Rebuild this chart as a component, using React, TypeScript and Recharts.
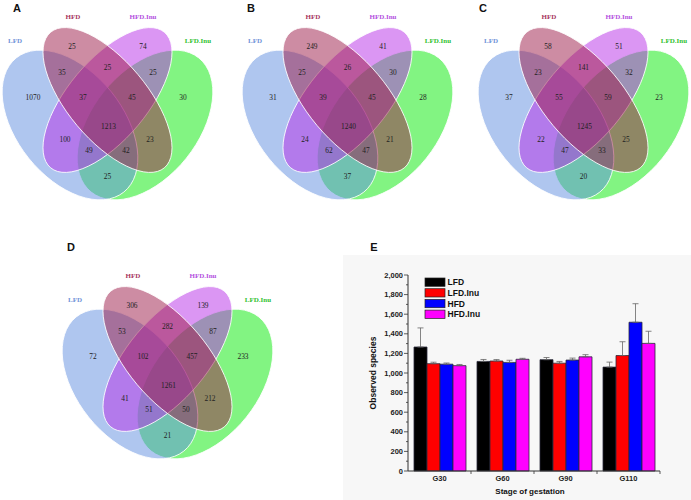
import React from 'react';
import { ScatterChart, Scatter, XAxis, YAxis, BarChart, Bar, ErrorBar } from 'recharts';

// Venn sets, in the order the labels run left to right
const GROUPS = ['LFD', 'HFD', 'HFD.Inu', 'LFD.Inu'];

// region order: LFD, HFD, HFD.Inu, LFD.Inu, LFD&HFD, HFD&HFD.Inu, HFD.Inu&LFD.Inu,
// LFD&HFD&HFD.Inu, HFD&HFD.Inu&LFD.Inu, all four, LFD&HFD.Inu, HFD&LFD.Inu,
// LFD&HFD.Inu&LFD.Inu, LFD&HFD&LFD.Inu, LFD&LFD.Inu
const VENN_A = [1070, 25, 74, 30, 35, 25, 25, 37, 45, 1213, 100, 23, 49, 42, 25];
const VENN_B = [31, 249, 41, 28, 25, 26, 30, 39, 45, 1240, 24, 21, 62, 47, 37];
const VENN_C = [37, 58, 51, 23, 23, 141, 32, 55, 59, 1245, 22, 25, 47, 33, 20];
const VENN_D = [72, 306, 139, 233, 53, 282, 87, 102, 457, 1261, 41, 212, 51, 50, 21];

// bar chart
const STAGES = ['G30', 'G60', 'G90', 'G110'];
const LFD_VALUES = [1265, 1118, 1136, 1060];
const LFD_ERR = [195, 20, 22, 51];
const LFD_INU_VALUES = [1095, 1122, 1100, 1178];
const LFD_INU_ERR = [15, 15, 18, 141];
const HFD_VALUES = [1090, 1108, 1132, 1518];
const HFD_ERR = [12, 22, 20, 189];
const HFD_INU_VALUES = [1075, 1140, 1165, 1302];
const HFD_INU_ERR = [12, 10, 22, 124];
const Y_TICKS = Array.from({ length: 21 }, (_, i) => i * 100);

// ---- layout ----
const VSIZE = 240;
const AX = 107.5;
// drawing order: LFD.Inu, LFD, HFD.Inu, HFD
const ELLIPSES = [
  { x: AX + 37.5, y: 125, rx: 86, ry: 53, rot: -51.3, fill: '#06ea06' },
  { x: AX - 37.5, y: 125, rx: 86, ry: 53, rot: 51.3, fill: '#5f8de0' },
  { x: AX, y: 100, rx: 88.5, ry: 39.7, rot: -50, fill: '#b72ee8' },
  { x: AX, y: 100, rx: 88.5, ry: 39.7, rot: 50, fill: '#9c1a48' },
];
const REGION_POS = [
  [33, 97], [72, 46], [143, 46], [183, 97], [62, 72], [107.5, 67], [153, 72],
  [83, 97], [132, 97], [108.5, 126], [65, 139], [150, 139], [89, 150], [126, 150], [107.5, 176],
];
const LABEL_POS = [[15, 41], [73, 17], [143, 17], [198, 41]];
const LABEL_COLORS = ['#7092d8', '#a8365e', '#b450e0', '#2ebf2e'];

const SERIES = [
  { key: 'LFD', values: LFD_VALUES, err: LFD_ERR, color: '#000000' },
  { key: 'LFD.Inu', values: LFD_INU_VALUES, err: LFD_INU_ERR, color: '#ff0000' },
  { key: 'HFD', values: HFD_VALUES, err: HFD_ERR, color: '#0000ff' },
  { key: 'HFD.Inu', values: HFD_INU_VALUES, err: HFD_INU_ERR, color: '#ff00ff' },
];

const barData = STAGES.map((stage, i) => {
  const row: any = { stage };
  SERIES.forEach((s) => {
    row[s.key] = s.values[i];
    row[s.key + '_err'] = [0, s.err[i]];
  });
  return row;
});

const SERIF = '"Liberation Serif", "DejaVu Serif", serif';
const SANS = '"Liberation Sans", Arial, sans-serif';

const E_LEFT = 343;
const E_TOP = 255;
const E_W = 348;
const E_H = 245;
const PLOT_W = 252;
const BAND = PLOT_W / STAGES.length;

function Venn({ counts, left, top }: { counts: number[]; left: number; top: number }) {
  const regions = counts.map((n, i) => ({ x: REGION_POS[i][0], y: REGION_POS[i][1], n }));
  const labels = GROUPS.map((g, i) => ({ x: LABEL_POS[i][0], y: LABEL_POS[i][1], g, color: LABEL_COLORS[i] }));
  return (
    <div style={{ position: 'absolute', left, top }}>
      <ScatterChart width={VSIZE} height={VSIZE} margin={{ top: 0, right: 0, bottom: 0, left: 0 }}>
        <XAxis type="number" dataKey="x" domain={[0, VSIZE]} allowDataOverflow hide />
        <YAxis type="number" dataKey="y" domain={[0, VSIZE]} allowDataOverflow reversed hide />
        <Scatter
          data={ELLIPSES}
          isAnimationActive={false}
          shape={(p: any) => (
            <ellipse
              cx={p.cx}
              cy={p.cy}
              rx={p.payload.rx}
              ry={p.payload.ry}
              transform={`rotate(${p.payload.rot} ${p.cx} ${p.cy})`}
              fill={p.payload.fill}
              fillOpacity={0.5}
              stroke="#ffffff"
              strokeWidth={0.8}
            />
          )}
        />
        <Scatter
          data={regions}
          isAnimationActive={false}
          shape={(p: any) => (
            <text x={p.cx} y={p.cy} textAnchor="middle" dominantBaseline="central" fontFamily={SERIF} fontSize={7.4} fill="#222">
              {p.payload.n}
            </text>
          )}
        />
        <Scatter
          data={labels}
          isAnimationActive={false}
          shape={(p: any) => (
            <text x={p.cx} y={p.cy} textAnchor="middle" dominantBaseline="central" fontFamily={SERIF} fontSize={7} fontWeight="bold" fill={p.payload.color}>
              {p.payload.g}
            </text>
          )}
        />
      </ScatterChart>
    </div>
  );
}

const YTick = (props: any) => {
  const { x, y, payload } = props;
  const major = payload.value % 200 === 0;
  return (
    <g>
      <line x1={x - (major ? 4 : 2)} x2={x} y1={y} y2={y} stroke="#333" strokeWidth={0.8} />
      {major && (
        <text x={x - 5} y={y} dy="0.35em" textAnchor="end" fontFamily={SANS} fontSize={7.5} fontWeight="bold" fill="#222">
          {payload.value.toLocaleString('en-US')}
        </text>
      )}
    </g>
  );
};

const XTick = (props: any) => {
  const { x, y, payload } = props;
  return (
    <g>
      <line x1={x + BAND / 2} x2={x + BAND / 2} y1={y} y2={y + 3} stroke="#333" strokeWidth={0.8} />
      <text x={x} y={y + 9.5} textAnchor="middle" fontFamily={SANS} fontSize={7.5} fontWeight="bold" fill="#222">
        {payload.value}
      </text>
    </g>
  );
};

export default function App() {
  return (
    <div style={{ position: 'fixed', left: 0, top: 0, width: 691, height: 500, background: '#fff', overflow: 'hidden' }}>
      <Venn counts={VENN_A} left={0} top={0} />
      <Venn counts={VENN_B} left={240} top={0} />
      <Venn counts={VENN_C} left={476} top={0} />
      <Venn counts={VENN_D} left={60} top={259} />

      <div style={{ position: 'absolute', left: E_LEFT, top: E_TOP, width: E_W, height: E_H, background: '#f7f7f7' }} />
      <div style={{ position: 'absolute', left: E_LEFT, top: E_TOP }}>
        <BarChart
          width={E_W}
          height={E_H}
          data={barData}
          margin={{ top: 20, right: 31, bottom: 9, left: 35 }}
          barCategoryGap={6}
          barGap={0}
        >
          <XAxis
            dataKey="stage"
            height={20}
            tickSize={0}
            tickMargin={0}
            tickLine={false}
            tick={<XTick />}
            interval={0}
            axisLine={{ stroke: '#333', strokeWidth: 1 }}
          />
          <YAxis
            width={30}
            domain={[0, 2000]}
            ticks={Y_TICKS}
            interval={0}
            tickSize={0}
            tickMargin={0}
            tickLine={false}
            tick={<YTick />}
            axisLine={{ stroke: '#333', strokeWidth: 1 }}
          />
          {SERIES.map((s) => (
            <Bar key={s.key} dataKey={s.key} fill={s.color} stroke="#2a2a3a" strokeWidth={0.8} isAnimationActive={false}>
              <ErrorBar dataKey={s.key + '_err'} width={3} stroke="#666" strokeWidth={0.8} />
            </Bar>
          ))}
        </BarChart>
      </div>

      <svg width={691} height={500} style={{ position: 'absolute', left: 0, top: 0, pointerEvents: 'none' }}>
        {[['A', 17, 8], ['B', 251, 8], ['C', 483, 8], ['D', 71, 247], ['E', 374, 247]].map(([t, x, y]) => (
          <text key={t as string} x={x as number} y={y as number} dominantBaseline="central" textAnchor="middle" fontFamily={SANS} fontSize={11} fontWeight="bold" fill="#111">
            {t}
          </text>
        ))}
        {SERIES.map((s, i) => (
          <g key={s.key}>
            <rect x={425} y={278 + i * 10.7} width={20} height={8.3} fill={s.color} stroke="#222" strokeWidth={0.7} />
            <text x={447.5} y={278 + i * 10.7 + 4.2} dominantBaseline="central" fontFamily={SANS} fontSize={8.5} fontWeight="bold" fill="#111">
              {s.key}
            </text>
          </g>
        ))}
        <text x={373} y={373} transform="rotate(-90 373 373)" textAnchor="middle" dominantBaseline="central" fontFamily={SANS} fontSize={8.5} fontWeight="bold" fill="#111">
          Observed species
        </text>
        <text x={530} y={491} textAnchor="middle" dominantBaseline="central" fontFamily={SANS} fontSize={8} fontWeight="bold" fill="#111">
          Stage of gestation
        </text>
      </svg>
    </div>
  );
}
